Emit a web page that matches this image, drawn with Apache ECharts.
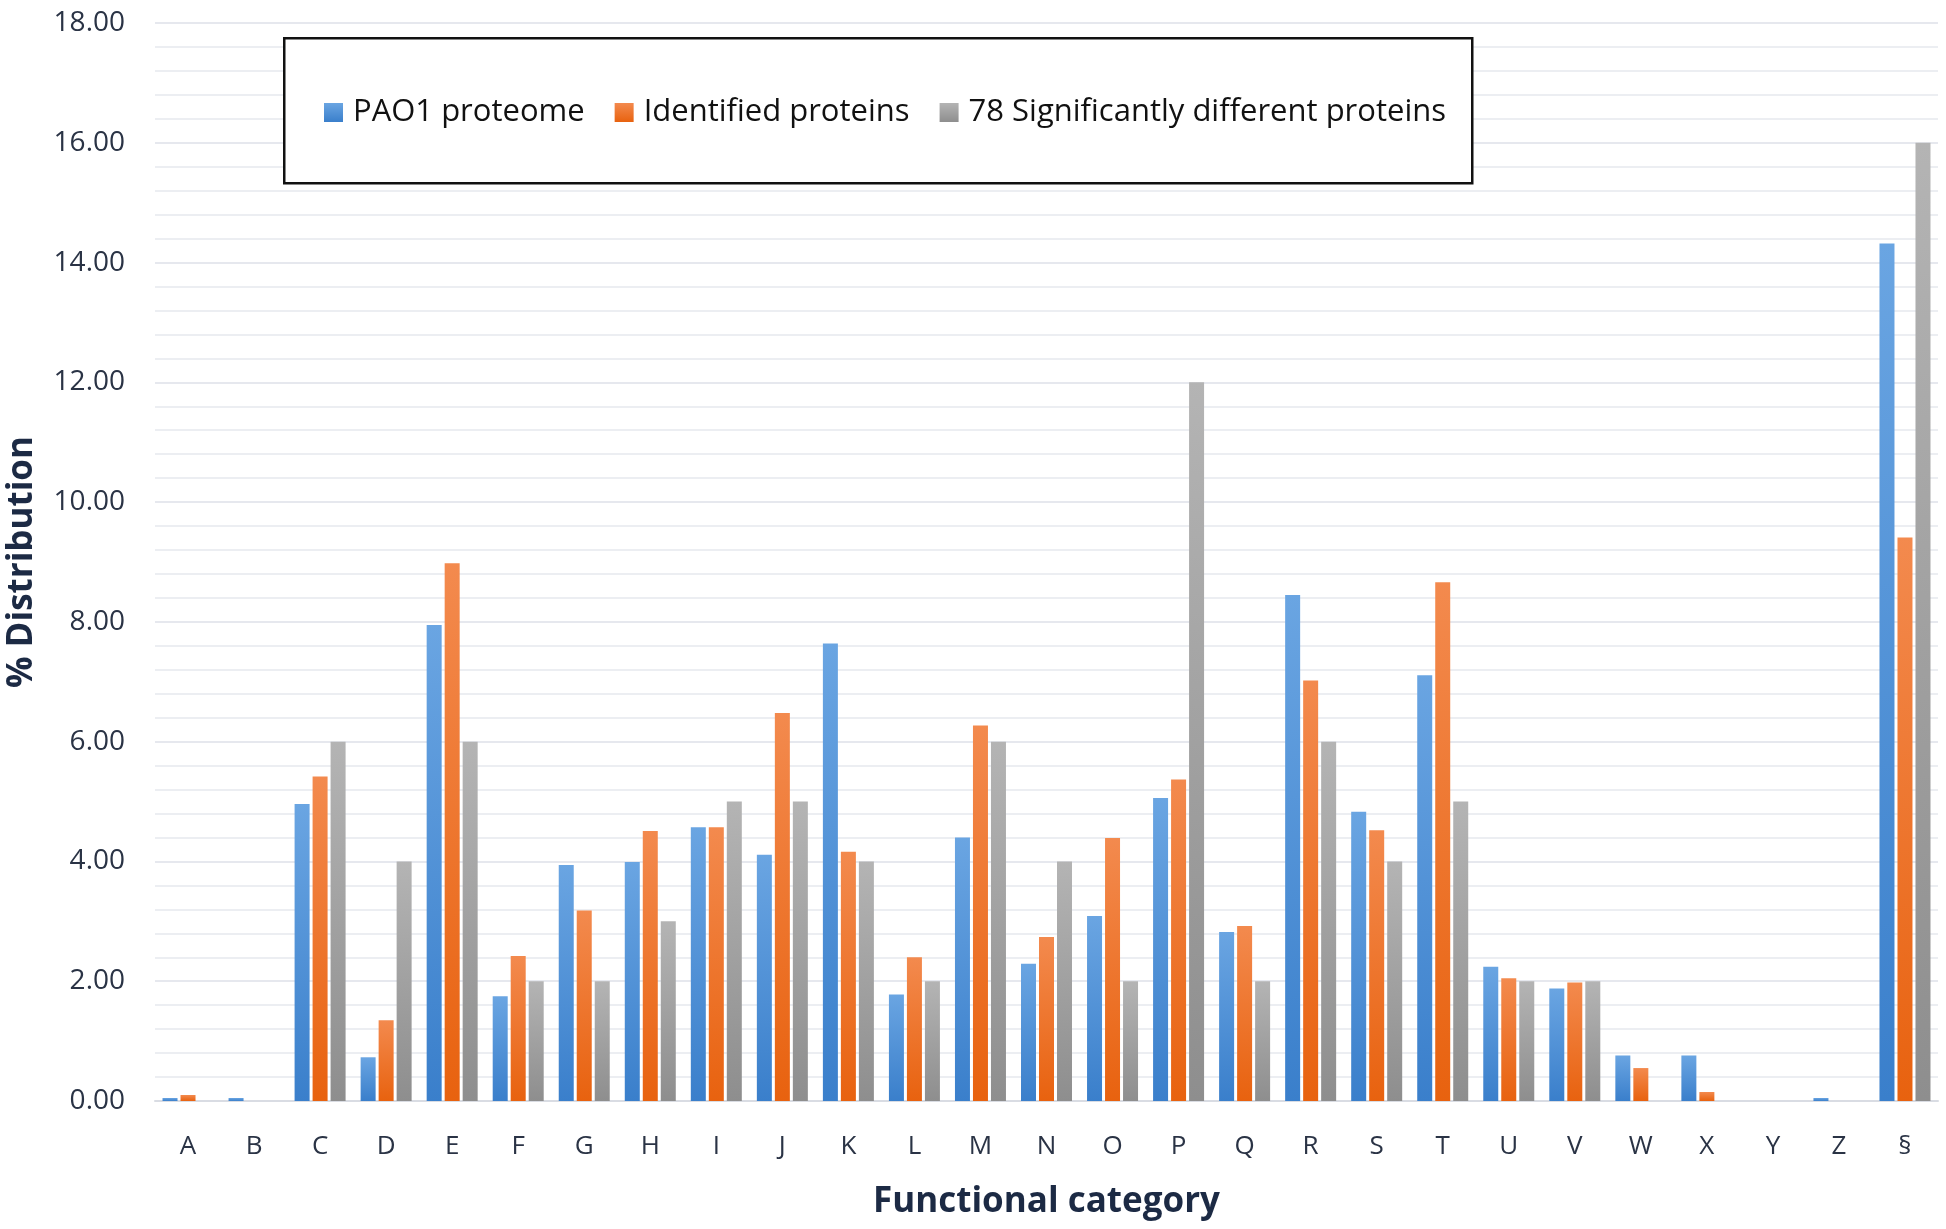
<!DOCTYPE html>
<html>
<head>
<meta charset="utf-8">
<script src="https://cdn.jsdelivr.net/npm/echarts@6/dist/echarts.min.js"></script>
<style>
html,body{margin:0;padding:0;background:#fff;}
#chart{width:1946px;height:1229px;}
</style>
</head>
<body>
<div id="chart"></div>
<script>
const categories = ['A','B','C','D','E','F','G','H','I','J','K','L','M','N','O','P','Q','R','S','T','U','V','W','X','Y','Z','§'];
const pao1Proteome = [0.05,0.05,4.96,0.73,7.95,1.75,3.94,3.99,4.57,4.11,7.64,1.78,4.40,2.29,3.09,5.06,2.82,8.45,4.83,7.11,2.24,1.88,0.76,0.76,0,0.05,14.32];
const identifiedProteins = [0.10,0,5.42,1.35,8.98,2.42,3.18,4.51,4.57,6.48,4.16,2.40,6.27,2.74,4.39,5.37,2.92,7.02,4.52,8.66,2.05,1.98,0.55,0.15,0,0,9.41];
const significantProteins = [0,0,6,4,6,2,2,3,5,5,4,2,6,4,2,12,2,6,4,5,2,2,0,0,0,0,16];
const seriesNames = ['PAO1 proteome','Identified proteins','78 Significantly different proteins'];
const yTicks = [0,2,4,6,8,10,12,14,16,18];

function grad(top, bottom){
  return new echarts.graphic.LinearGradient(0,0,0,1,[{offset:0,color:top},{offset:1,color:bottom}]);
}
const colors = ['#4e8fd6','#ee7024','#a0a0a0'];
const styles = [
  {color: grad('#6aa5e2','#3a7fcb')},
  {color: grad('#f38a4e','#e8620f')},
  {color: grad('#b4b4b4','#8e8e8e')}
];
const dataSets = [pao1Proteome, identifiedProteins, significantProteins];

const chart = echarts.init(document.getElementById('chart'), null, {renderer:'canvas'});
chart.setOption({
  animation:false,
  backgroundColor:'#ffffff',
  color: colors,
  graphic:[{
    type:'rect', left:283, top:37, z:1,
    shape:{width:1188, height:145},
    style:{fill:'#ffffff', stroke:'#111111', lineWidth:2.5}
  }],
  legend:{
    left:319, top:92, z:5,
    itemWidth:19, itemHeight:19, itemGap:30,
    icon:'rect',
    textStyle:{fontFamily:'Open Sans', fontSize:31, color:'#111111', padding:[0,0,0,5]},
    data: seriesNames
  },
  grid:{left:155, right:8, top:23, bottom:128, containLabel:false, outerBoundsMode:'none'},
  xAxis:{
    type:'category', data:categories,
    axisLine:{show:true, lineStyle:{color:'#d9dce3', width:2}},
    axisTick:{show:false},
    axisLabel:{fontFamily:'Open Sans', fontSize:26, color:'#2a3345', margin:33},
    name:'Functional category', nameLocation:'middle', nameGap:84,
    nameTextStyle:{fontFamily:'Open Sans', fontWeight:'bold', fontSize:35, color:'#1c2a44'}
  },
  yAxis:{
    type:'value', min:yTicks[0], max:yTicks[yTicks.length-1], interval:2,
    axisLine:{show:false}, axisTick:{show:false},
    axisLabel:{fontFamily:'Open Sans', fontSize:28, color:'#2a3345', margin:30,
      formatter:v=>v.toFixed(2)},
    splitLine:{show:true, lineStyle:{color:'#e6e8ee', width:2}},
    minorSplitLine:{show:true, lineStyle:{color:'#eceef2', width:2}},
    minorTick:{show:false, splitNumber:5},
    name:'% Distribution', nameLocation:'middle', nameGap:115, nameRotate:90,
    nameTextStyle:{fontFamily:'Open Sans', fontWeight:'bold', fontSize:35, color:'#1c2a44'}
  },
  series: seriesNames.map((n,i)=>({
    name:n, type:'bar', data:dataSets[i],
    barWidth:15, barGap:'20%',
    itemStyle: styles[i]
  }))
});
</script>
</body>
</html>
